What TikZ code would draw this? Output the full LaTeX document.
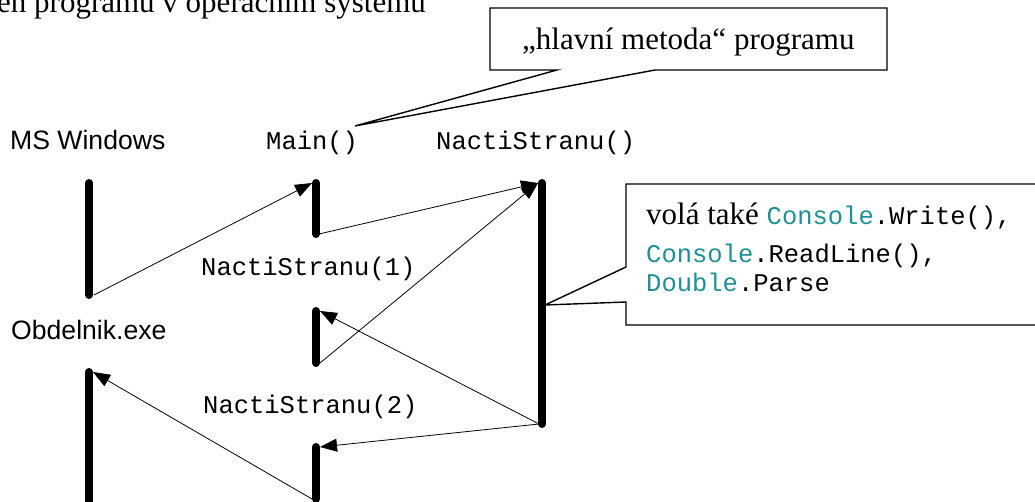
\documentclass[tikz,border=0pt]{standalone}
\usepackage{fontspec}
\setmainfont{Liberation Serif}
\setsansfont{Liberation Sans}
\setmonofont{Liberation Mono}
\usetikzlibrary{arrows.meta}
\definecolor{typecol}{RGB}{30,145,150}
\newcommand{\cls}[1]{{\color{typecol}#1}}
\newcommand{\code}[1]{{\fontsize{25.5}{30}\selectfont\ttfamily #1}}

\begin{document}
\begin{tikzpicture}[x=1pt,y=-1pt,
    lbl/.style={inner sep=0pt,anchor=base west},
    proc/.style={lbl,font=\fontsize{26.6}{30}\selectfont\sffamily},
    meth/.style={lbl,font=\fontsize{25.5}{30}\selectfont\ttfamily},
    big/.style={lbl,font=\fontsize{31}{36}\selectfont},
    bar/.style={line width=8pt,line cap=round},
    call/.style={-{Triangle[length=17pt,width=13pt]},line width=0.8pt},
    callout/.style={draw,fill=white,line width=1.4pt,line join=miter}]
    \useasboundingbox (0,0) rectangle (1035,502);
    \node (title) [big] at (-3,13) {en programu v operačním systému};
    \node (win) [proc] at (10,150) {MS Windows};
    \node (exe) [proc] at (11,339) {Obdelnik.exe};
    \node (main) [meth] at (266,150) {Main()};
    \node (nacti) [meth] at (436,150) {NactiStranu()};
    \node (nacti1) [meth] at (201,276) {NactiStranu(1)};
    \node (nacti2) [meth] at (203,413) {NactiStranu(2)};
    % activation bars
    \coordinate (w1t) at (89,183); \coordinate (w1b) at (89,295);
    \coordinate (mt) at (316,183); \coordinate (mb) at (316,234);
    \coordinate (nt) at (542,183); \coordinate (nb) at (542,424);
    \coordinate (n1t) at (316,311); \coordinate (n1b) at (316,363);
    \coordinate (w2t) at (89,372); \coordinate (w2b) at (89,520);
    \coordinate (n2t) at (316,447); \coordinate (n2b) at (316,499);
    \foreach \a/\b in {w1t/w1b,mt/mb,nt/nb,n1t/n1b,w2t/w2b,n2t/n2b}
      \draw[bar] (\a) -- (\b);
    % calls and returns
    \draw[call] ([xshift=5pt]w1b) -- ([xshift=-4pt]mt);
    \draw[call] ([xshift=3pt]mb) -- ([xshift=-4pt]nt);
    \draw[call] ([xshift=4pt]n1b) -- ([xshift=-4pt]nt);
    \draw[call] ([xshift=-3pt]nb) -- ([xshift=4pt]n1t);
    \draw[call] ([xshift=-3pt]nb) -- ([xshift=4pt]n2t);
    \draw[call] ([xshift=-4pt]n2b) -- ([xshift=4pt]w2t);
    % callouts
    \coordinate (tip1) at (355,126);
    \draw[callout] (490,8) -- (887,8) -- (887,70) -- (655,70) -- (tip1) -- (557,70) -- (490,70) -- cycle;
    \node (mainnote) [big] at (522,50) {„hlavní metoda“ programu};
    \coordinate (tip2) at (545,305);
    \draw[callout] (626,184) -- (1045,184) -- (1045,325) -- (626,325) -- (626,302) -- (tip2) -- (626,267) -- cycle;
    \node (note1) [big] at (646,225) {volá také \code{\cls{Console}.Write(),}};
    \node (note2) [meth] at (646,263) {\cls{Console}.ReadLine(),};
    \node (note3) [meth] at (646,291) {\cls{Double}.Parse};
  \end{tikzpicture}
\end{document}
